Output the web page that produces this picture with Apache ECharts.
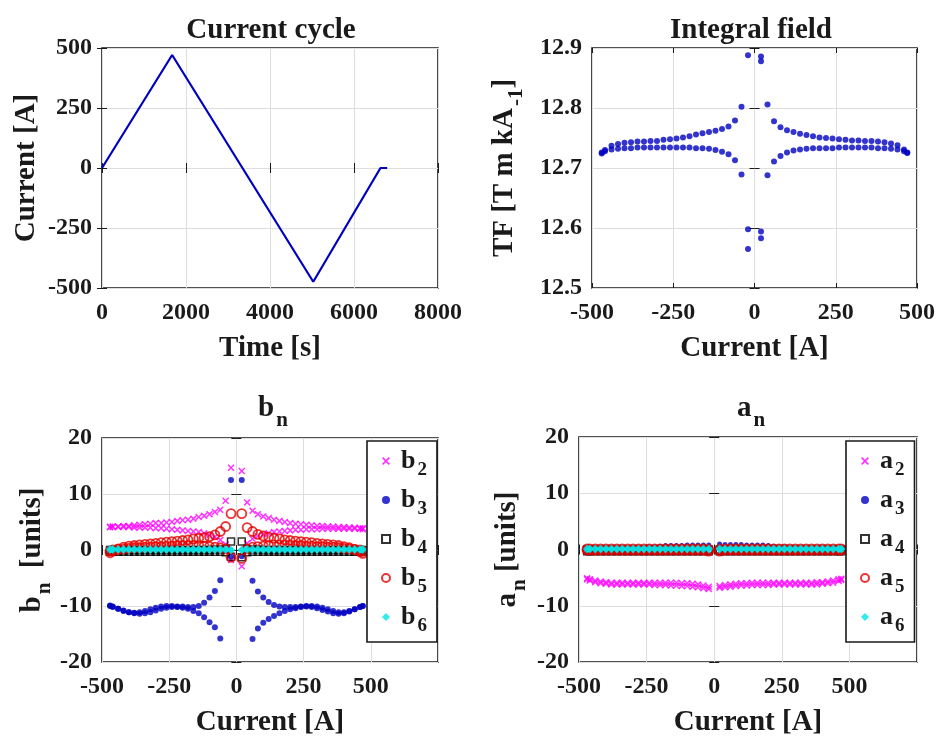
<!DOCTYPE html>
<html>
<head>
<meta charset="utf-8">
<script src="https://cdn.jsdelivr.net/npm/echarts@6/dist/echarts.min.js"></script>
<style>
  html, body { margin: 0; padding: 0; background: #fff; }
  #chart { width: 938px; height: 738px; }
</style>
</head>
<body>
<div id="chart"></div>
<script>
// ---- Current cycle (time [s], current [A]) ----
const cycleTime    = [0, 1670, 5030, 6630, 6790];
const cycleCurrent = [0, 471, -474, 0, 0];

// ---- Current steps at which the field was measured [A] ----
const CUR = [20, 40, 60, 80, 100, 120, 140, 160, 180, 200, 220, 240,
             260, 280, 300, 320, 340, 360, 380, 400, 420, 440, 460, 470];

// ---- Integral field TF [T m/kA]: upper/lower branch, positive/negative current ----
const tfHiP = [12.886, 12.806, 12.778, 12.768, 12.763, 12.760, 12.757, 12.755, 12.753, 12.751, 12.750, 12.749,
               12.748, 12.747, 12.746, 12.746, 12.745, 12.745, 12.744, 12.743, 12.741, 12.738, 12.731, 12.726];
const tfLoP = [12.594, 12.688, 12.711, 12.720, 12.726, 12.729, 12.731, 12.732, 12.733, 12.733, 12.733, 12.733,
               12.734, 12.734, 12.734, 12.734, 12.734, 12.734, 12.733, 12.733, 12.732, 12.731, 12.728, 12.725];
const tfHiN = [12.888, 12.802, 12.779, 12.769, 12.765, 12.762, 12.760, 12.758, 12.756, 12.753, 12.751, 12.749,
               12.748, 12.747, 12.745, 12.745, 12.744, 12.744, 12.743, 12.742, 12.740, 12.737, 12.730, 12.726];
const tfLoN = [12.598, 12.689, 12.713, 12.723, 12.727, 12.730, 12.732, 12.733, 12.733, 12.734, 12.734, 12.734,
               12.734, 12.734, 12.734, 12.734, 12.734, 12.734, 12.733, 12.733, 12.732, 12.731, 12.728, 12.724];
// start / end points of the cycle near zero current
const tfZeroCur = [20, 20, -20];
const tfZeroVal = [12.878, 12.583, 12.565];

// ---- Normal harmonics b_n [units] ----
const b2HiP = [14.1, 8.5, 7.0, 6.4, 6.0, 5.7, 5.4, 5.2, 5.0, 4.8, 4.7, 4.6, 4.5, 4.4, 4.3, 4.3, 4.2, 4.2, 4.1, 4.1, 4.0, 4.0, 3.9, 3.9];
const b2LoP = [-2.9, 1.2, 2.0, 2.5, 2.8, 3.0, 3.2, 3.3, 3.4, 3.5, 3.6, 3.6, 3.7, 3.7, 3.7, 3.8, 3.8, 3.8, 3.8, 3.8, 3.8, 3.8, 3.8, 3.7];
const b2HiN = [14.7, 8.8, 7.2, 6.8, 6.4, 6.1, 5.9, 5.6, 5.4, 5.3, 5.2, 5.0, 4.9, 4.8, 4.8, 4.7, 4.6, 4.5, 4.4, 4.3, 4.3, 4.2, 4.2, 4.1];
const b2LoN = [-1.8, 1.0, 1.8, 2.3, 2.7, 3.0, 3.2, 3.3, 3.4, 3.5, 3.6, 3.7, 3.8, 3.9, 3.9, 4.0, 4.0, 4.0, 4.0, 4.1, 4.1, 4.1, 4.1, 4.1];

const b3HiP = [12.5, null, -5.5, -7.4, -8.5, -9.3, -9.8, -10.1, -10.2, -10.2, -10.2, -10.1,
               -10.0, -10.0, -10.1, -10.3, -10.6, -10.9, -11.1, -11.1, -10.9, -10.6, -10.2, -10.0];
const b3LoP = [-1.1, null, -15.9, -14.0, -13.0, -12.3, -11.8, -11.3, -10.9, -10.6, -10.4, -10.2,
               -10.1, -10.2, -10.4, -10.7, -11.0, -11.3, -11.4, -11.3, -11.0, -10.6, -10.2, -10.0];
const b3HiN = [12.5, null, -5.4, -7.3, -8.5, -9.4, -10.0, -10.2, -10.2, -10.1, -10.1, -10.0,
               -10.0, -10.1, -10.3, -10.6, -10.9, -11.1, -11.2, -11.1, -10.9, -10.5, -10.1, -9.9];
const b3LoN = [-1.1, null, -15.8, -13.8, -12.9, -12.0, -11.3, -10.9, -10.5, -10.3, -10.2, -10.2,
               -10.3, -10.5, -10.8, -11.1, -11.3, -11.4, -11.3, -11.1, -10.8, -10.5, -10.2, -10.0];

const b4HiP = [1.5, 0.2, 0.1, 0.1, 0.0, 0.0, 0.0, 0.0, 0.0, 0.0, 0.0, 0.0, 0.0, 0.0, 0.0, 0.0, 0.0, 0.0, 0.0, 0.0, 0.0, 0.0, 0.0, 0.0];
const b4LoP = [-1.3, -0.4, -0.3, -0.3, -0.3, -0.3, -0.3, -0.3, -0.3, -0.3, -0.3, -0.3, -0.3, -0.3, -0.3, -0.3, -0.3, -0.3, -0.3, -0.3, -0.3, -0.3, -0.3, -0.3];
const b4HiN = [1.5, 0.2, 0.1, 0.1, 0.0, 0.0, 0.0, 0.0, 0.0, 0.0, 0.0, 0.0, 0.0, 0.0, 0.0, 0.0, 0.0, 0.0, 0.0, 0.0, 0.0, 0.0, 0.0, 0.0];
const b4LoN = [-1.2, -0.4, -0.3, -0.3, -0.3, -0.3, -0.3, -0.3, -0.3, -0.3, -0.3, -0.3, -0.3, -0.3, -0.3, -0.3, -0.3, -0.3, -0.3, -0.3, -0.3, -0.3, -0.3, -0.3];

const b5HiP = [6.5, 4.0, 3.3, 2.8, 2.5, 2.3, 2.1, 2.0, 1.8, 1.7, 1.6, 1.5, 1.4, 1.3, 1.2, 1.1, 1.0, 0.9, 0.8, 0.6, 0.4, 0.1, -0.3, -0.6];
const b5LoP = [-1.5, 0.2, 0.5, 0.6, 0.7, 0.8, 0.9, 0.9, 0.9, 0.9, 0.8, 0.8, 0.7, 0.7, 0.6, 0.6, 0.5, 0.5, 0.4, 0.3, 0.2, 0.1, 0.0, -0.2];
const b5HiN = [6.5, 4.2, 3.3, 2.7, 2.4, 2.2, 2.1, 2.0, 1.8, 1.7, 1.6, 1.5, 1.4, 1.3, 1.2, 1.1, 1.0, 0.9, 0.8, 0.7, 0.5, 0.2, -0.2, -0.5];
const b5LoN = [-1.3, 0.2, 0.4, 0.5, 0.6, 0.7, 0.8, 0.8, 0.8, 0.8, 0.8, 0.7, 0.7, 0.6, 0.6, 0.5, 0.5, 0.4, 0.4, 0.3, 0.2, 0.1, 0.0, -0.2];

const b6HiP = [0.0, 0.2, 0.2, 0.2, 0.2, 0.2, 0.2, 0.2, 0.2, 0.2, 0.2, 0.2, 0.2, 0.2, 0.2, 0.2, 0.2, 0.2, 0.2, 0.2, 0.2, 0.2, 0.2, 0.2];
const b6LoP = [0.0, 0.0, 0.0, 0.0, 0.0, 0.0, 0.0, 0.0, 0.0, 0.0, 0.0, 0.0, 0.0, 0.0, 0.0, 0.0, 0.0, 0.0, 0.0, 0.0, 0.0, 0.0, 0.0, 0.0];
const b6HiN = [0.0, 0.2, 0.2, 0.2, 0.2, 0.2, 0.2, 0.2, 0.2, 0.2, 0.2, 0.2, 0.2, 0.2, 0.2, 0.2, 0.2, 0.2, 0.2, 0.2, 0.2, 0.2, 0.2, 0.2];
const b6LoN = [0.0, 0.0, 0.0, 0.0, 0.0, 0.0, 0.0, 0.0, 0.0, 0.0, 0.0, 0.0, 0.0, 0.0, 0.0, 0.0, 0.0, 0.0, 0.0, 0.0, 0.0, 0.0, 0.0, 0.0];

// ---- Skew harmonics a_n [units] ----
const a2HiP = [-6.5, -6.3, -6.2, -6.1, -6.0, -6.0, -5.9, -5.9, -5.9, -5.9, -5.9, -5.9, -5.9, -5.9, -5.9, -5.9, -5.9, -5.9, -5.8, -5.8, -5.7, -5.5, -5.3, -5.2];
const a2LoP = [-6.8, -6.7, -6.6, -6.5, -6.4, -6.4, -6.3, -6.3, -6.3, -6.3, -6.2, -6.2, -6.2, -6.2, -6.2, -6.2, -6.2, -6.2, -6.2, -6.1, -6.0, -5.9, -5.6, -5.4];
const a2HiN = [-6.6, -6.4, -6.2, -6.1, -6.0, -6.0, -5.9, -5.9, -5.9, -5.9, -5.9, -5.9, -5.9, -5.9, -5.9, -5.9, -5.9, -5.9, -5.9, -5.8, -5.7, -5.5, -5.3, -5.1];
const a2LoN = [-7.0, -6.9, -6.7, -6.6, -6.5, -6.5, -6.4, -6.4, -6.3, -6.3, -6.3, -6.2, -6.2, -6.2, -6.2, -6.2, -6.2, -6.2, -6.2, -6.1, -6.0, -5.8, -5.5, -5.3];

const a3HiP = [1.0, 0.9, 0.9, 0.9, 0.9, 0.8, 0.8, 0.8, 0.8, 0.7, 0.6, 0.5, 0.5, 0.4, 0.4, 0.4, 0.4, 0.4, 0.4, 0.4, 0.4, 0.4, 0.4, 0.4];
const a3LoP = [0.4, 0.3, 0.3, 0.3, 0.3, 0.3, 0.3, 0.3, 0.3, 0.3, 0.3, 0.3, 0.3, 0.3, 0.3, 0.3, 0.3, 0.3, 0.3, 0.3, 0.3, 0.3, 0.3, 0.3];
const a3HiN = [0.8, 0.8, 0.8, 0.8, 0.8, 0.7, 0.7, 0.7, 0.7, 0.6, 0.5, 0.5, 0.4, 0.4, 0.4, 0.4, 0.4, 0.4, 0.4, 0.4, 0.4, 0.4, 0.4, 0.4];
const a3LoN = [0.3, 0.3, 0.3, 0.3, 0.3, 0.3, 0.3, 0.3, 0.3, 0.3, 0.3, 0.3, 0.3, 0.3, 0.3, 0.3, 0.3, 0.3, 0.3, 0.3, 0.3, 0.3, 0.3, 0.3];

const a4HiP = [0.0, 0.0, 0.0, 0.0, 0.0, 0.0, 0.0, 0.0, 0.0, 0.0, 0.0, 0.0, 0.0, 0.0, 0.0, 0.0, 0.0, 0.0, 0.0, 0.0, 0.0, 0.0, 0.0, 0.0];
const a4LoP = [-0.3, -0.3, -0.3, -0.3, -0.3, -0.3, -0.3, -0.3, -0.3, -0.3, -0.3, -0.3, -0.3, -0.3, -0.3, -0.3, -0.3, -0.3, -0.3, -0.3, -0.3, -0.3, -0.3, -0.3];
const a4HiN = [0.0, 0.0, 0.0, 0.0, 0.0, 0.0, 0.0, 0.0, 0.0, 0.0, 0.0, 0.0, 0.0, 0.0, 0.0, 0.0, 0.0, 0.0, 0.0, 0.0, 0.0, 0.0, 0.0, 0.0];
const a4LoN = [-0.3, -0.3, -0.3, -0.3, -0.3, -0.3, -0.3, -0.3, -0.3, -0.3, -0.3, -0.3, -0.3, -0.3, -0.3, -0.3, -0.3, -0.3, -0.3, -0.3, -0.3, -0.3, -0.3, -0.3];

const a5HiP = [0.0, 0.1, 0.1, 0.1, 0.1, 0.1, 0.1, 0.1, 0.1, 0.1, 0.1, 0.1, 0.1, 0.1, 0.1, 0.1, 0.1, 0.1, 0.1, 0.1, 0.1, 0.1, 0.1, 0.1];
const a5LoP = [-0.3, -0.1, -0.1, -0.1, -0.1, -0.1, -0.1, -0.1, -0.1, -0.1, -0.1, -0.1, -0.1, -0.1, -0.1, -0.1, -0.1, -0.1, -0.1, -0.1, -0.1, -0.1, -0.1, -0.1];
const a5HiN = [0.0, 0.1, 0.1, 0.1, 0.1, 0.1, 0.1, 0.1, 0.1, 0.1, 0.1, 0.1, 0.1, 0.1, 0.1, 0.1, 0.1, 0.1, 0.1, 0.1, 0.1, 0.1, 0.1, 0.1];
const a5LoN = [-0.3, -0.1, -0.1, -0.1, -0.1, -0.1, -0.1, -0.1, -0.1, -0.1, -0.1, -0.1, -0.1, -0.1, -0.1, -0.1, -0.1, -0.1, -0.1, -0.1, -0.1, -0.1, -0.1, -0.1];

const a6HiP = [0.2, 0.2, 0.2, 0.2, 0.2, 0.2, 0.2, 0.2, 0.2, 0.2, 0.2, 0.2, 0.2, 0.2, 0.2, 0.2, 0.2, 0.2, 0.2, 0.2, 0.2, 0.2, 0.2, 0.2];
const a6LoP = [0.0, 0.0, 0.0, 0.0, 0.0, 0.0, 0.0, 0.0, 0.0, 0.0, 0.0, 0.0, 0.0, 0.0, 0.0, 0.0, 0.0, 0.0, 0.0, 0.0, 0.0, 0.0, 0.0, 0.0];
const a6HiN = [0.2, 0.2, 0.2, 0.2, 0.2, 0.2, 0.2, 0.2, 0.2, 0.2, 0.2, 0.2, 0.2, 0.2, 0.2, 0.2, 0.2, 0.2, 0.2, 0.2, 0.2, 0.2, 0.2, 0.2];
const a6LoN = [0.0, 0.0, 0.0, 0.0, 0.0, 0.0, 0.0, 0.0, 0.0, 0.0, 0.0, 0.0, 0.0, 0.0, 0.0, 0.0, 0.0, 0.0, 0.0, 0.0, 0.0, 0.0, 0.0, 0.0];

// ---- Axis ticks ----
const timeTicks = { min: 0, max: 8000, step: 2000 };
const curTicks  = { min: -500, max: 500, step: 250 };
const tfTicks   = { min: 12.5, max: 12.9, step: 0.1 };
const harmTicks = { min: -20, max: 20, step: 10 };
const harmCurTicks = { min: -500, max: 750, step: 250, lastLabel: 500 };

// ---- Styling ----
const FONT = 'Liberation Serif';
const INK = '#1a1a1a';
const BLUE = '#0000c0';
const MAGENTA = '#ff00ff';
const RED = '#e60000';
const CYAN = '#00e6e6';
const GRIDLINE = '#dedede';
const CROSS = 'path://M1.5,0 L5,3.5 L8.5,0 L10,1.5 L6.5,5 L10,8.5 L8.5,10 L5,6.5 L1.5,10 L0,8.5 L3.5,5 L0,1.5 Z';

const rich = {
  m: { fontFamily: FONT, fontWeight: 'bold', fontSize: 29, lineHeight: 30, color: INK, verticalAlign: 'top' },
  s: { fontFamily: FONT, fontWeight: 'bold', fontSize: 21, lineHeight: 21, color: INK, verticalAlign: 'top', padding: [16, 0, 0, 2] }
};
const legendRich = {
  m: { fontFamily: FONT, fontWeight: 'bold', fontSize: 26, lineHeight: 26, color: INK, verticalAlign: 'top', padding: [0, 0, 0, 6] },
  s: { fontFamily: FONT, fontWeight: 'bold', fontSize: 19, lineHeight: 19, color: INK, verticalAlign: 'top', padding: [13, 0, 0, 2] }
};

function pts(vals, sign) {
  const out = [];
  CUR.forEach((c, i) => { if (vals[i] != null) out.push([sign * c, vals[i]]); });
  return out;
}
function branches(hiP, loP, hiN, loN) {
  return [].concat(pts(hiP, 1), pts(loP, 1), pts(hiN, -1), pts(loN, -1));
}

const tickLabel = { fontFamily: FONT, fontWeight: 'bold', fontSize: 24, color: INK };
const tickStyle = { inside: true, length: 5, lineStyle: { color: INK, width: 1 } };

function xAxes(gi, t, name, nameGap) {
  const lastLabel = t.lastLabel != null ? t.lastLabel : t.max;
  return [{
    type: 'value', gridIndex: gi, position: 'bottom',
    min: t.min, max: t.max, interval: t.step,
    name: name, nameLocation: 'middle', nameGap: nameGap,
    nameTextStyle: { fontFamily: FONT, fontWeight: 'bold', fontSize: 29, color: INK },
    axisLine: { show: false }, axisTick: tickStyle,
    axisLabel: Object.assign({ margin: 13, formatter: v => (v > lastLabel ? '' : String(v)) }, tickLabel),
    splitLine: { show: true, lineStyle: { color: GRIDLINE, width: 1 } }
  }, {
    type: 'value', gridIndex: gi, position: 'top',
    min: t.min, max: t.max, interval: t.step,
    axisLine: { show: false }, axisTick: tickStyle, axisLabel: { show: false }, splitLine: { show: false }
  }];
}
function yAxes(gi, t, name, nameGap, fmt) {
  return [{
    type: 'value', gridIndex: gi, position: 'left',
    min: t.min, max: t.max, interval: t.step,
    name: name, nameLocation: 'middle', nameGap: nameGap, nameRotate: 90,
    nameTextStyle: { fontFamily: FONT, fontWeight: 'bold', fontSize: 29, color: INK, rich: rich },
    axisLine: { show: false }, axisTick: tickStyle,
    axisLabel: Object.assign({ margin: 10, formatter: fmt || (v => String(v)) }, tickLabel),
    splitLine: { show: true, lineStyle: { color: GRIDLINE, width: 1 } }
  }, {
    type: 'value', gridIndex: gi, position: 'right',
    min: t.min, max: t.max, interval: t.step,
    axisLine: { show: false }, axisTick: tickStyle, axisLabel: { show: false }, splitLine: { show: false }
  }];
}

function scatter(name, gi, data, sym) {
  return Object.assign({
    name: name, type: 'scatter', xAxisIndex: gi * 2, yAxisIndex: gi * 2,
    data: data, silent: true, animation: false
  }, sym);
}
const symX      = c => ({ symbol: CROSS, symbolSize: 7, itemStyle: { color: c } });
const symDot    = (c, s) => ({ symbol: 'circle', symbolSize: s || 6, itemStyle: { color: c } });
const symSquare = c => ({ symbol: 'rect', symbolSize: 7, itemStyle: { color: 'rgba(0,0,0,0)', borderColor: c, borderWidth: 1.5 } });
const symRing   = c => ({ symbol: 'circle', symbolSize: 9, itemStyle: { color: 'rgba(0,0,0,0)', borderColor: c, borderWidth: 1.8 } });
const symStar   = c => ({ symbol: 'diamond', symbolSize: 8, itemStyle: { color: c } });

const gridBox = { show: true, borderColor: INK, borderWidth: 1.6, backgroundColor: '#fff' };

const chart = echarts.init(document.getElementById('chart'), null, { renderer: 'canvas' });

const titleStyle = { fontFamily: FONT, fontWeight: 'bold', fontSize: 29, color: INK, rich: rich };
const legendBase = {
  orient: 'vertical', itemWidth: 8, itemHeight: 8, itemGap: 7,
  padding: [7, 10, 6, 14], borderColor: INK, borderWidth: 1.6, backgroundColor: '#fff',
  selectedMode: false,
  textStyle: { rich: legendRich },
  formatter: n => '{m|' + n.charAt(0) + '}{s|' + n.slice(1) + '}'
};

chart.setOption({
  animation: false,
  backgroundColor: '#fff',
  title: [
    { text: 'Current cycle', left: 266, top: 11, textAlign: 'center', textStyle: titleStyle },
    { text: 'Integral field', left: 746, top: 11, textAlign: 'center', textStyle: titleStyle },
    { text: '{m|b}{s|n}', left: 268, top: 389, textAlign: 'center', textStyle: titleStyle },
    { text: '{m|a}{s|n}', left: 746, top: 389, textAlign: 'center', textStyle: titleStyle }
  ],
  legend: [
    Object.assign({ left: 367, top: 441, data: ['b2', 'b3', 'b4', 'b5', 'b6'] }, legendBase),
    Object.assign({ left: 846, top: 441, data: ['a2', 'a3', 'a4', 'a5', 'a6'] }, legendBase)
  ],
  grid: [
    Object.assign({ left: 102, top: 48, width: 336, height: 240 }, gridBox),
    Object.assign({ left: 592, top: 48, width: 325, height: 240 }, gridBox),
    Object.assign({ left: 102, top: 438, width: 336, height: 227 }, gridBox),
    Object.assign({ left: 579, top: 437, width: 338, height: 228 }, gridBox)
  ],
  xAxis: [].concat(
    xAxes(0, timeTicks, 'Time [s]', 46),
    xAxes(1, curTicks, 'Current [A]', 46),
    xAxes(2, harmCurTicks, 'Current [A]', 46),
    xAxes(3, harmCurTicks, 'Current [A]', 46)
  ),
  yAxis: [].concat(
    yAxes(0, curTicks, 'Current [A]', 61),
    yAxes(1, tfTicks, '{m|TF [T m kA}{s|-1}{m|]}', 72, v => v.toFixed(1)),
    yAxes(2, harmTicks, '{m|b}{s|n}{m|  [units]}', 54),
    yAxes(3, harmTicks, '{m|a}{s|n}{m| [units]}', 56)
  ),
  series: [
    {
      name: 'cycle', type: 'line', xAxisIndex: 0, yAxisIndex: 0,
      data: cycleTime.map((t, i) => [t, cycleCurrent[i]]),
      showSymbol: false, symbol: 'none', silent: true,
      lineStyle: { color: BLUE, width: 2.2 }
    },
    scatter('TF', 1, branches(tfHiP, tfLoP, tfHiN, tfLoN).concat(tfZeroCur.map((c, i) => [c, tfZeroVal[i]])), symDot(BLUE, 6)),

    scatter('b2', 2, branches(b2HiP, b2LoP, b2HiN, b2LoN), symX(MAGENTA)),
    scatter('b3', 2, branches(b3HiP, b3LoP, b3HiN, b3LoN), symDot(BLUE, 6)),
    scatter('b4', 2, branches(b4HiP, b4LoP, b4HiN, b4LoN), symSquare('#000')),
    scatter('b5', 2, branches(b5HiP, b5LoP, b5HiN, b5LoN), symRing(RED)),
    scatter('b6', 2, branches(b6HiP, b6LoP, b6HiN, b6LoN), symStar(CYAN)),

    scatter('a2', 3, branches(a2HiP, a2LoP, a2HiN, a2LoN), symX(MAGENTA)),
    scatter('a3', 3, branches(a3HiP, a3LoP, a3HiN, a3LoN), symDot(BLUE, 5)),
    scatter('a4', 3, branches(a4HiP, a4LoP, a4HiN, a4LoN), symSquare('#000')),
    scatter('a5', 3, branches(a5HiP, a5LoP, a5HiN, a5LoN), symRing(RED)),
    scatter('a6', 3, branches(a6HiP, a6LoP, a6HiN, a6LoN), symStar(CYAN))
  ]
});
</script>
</body>
</html>
